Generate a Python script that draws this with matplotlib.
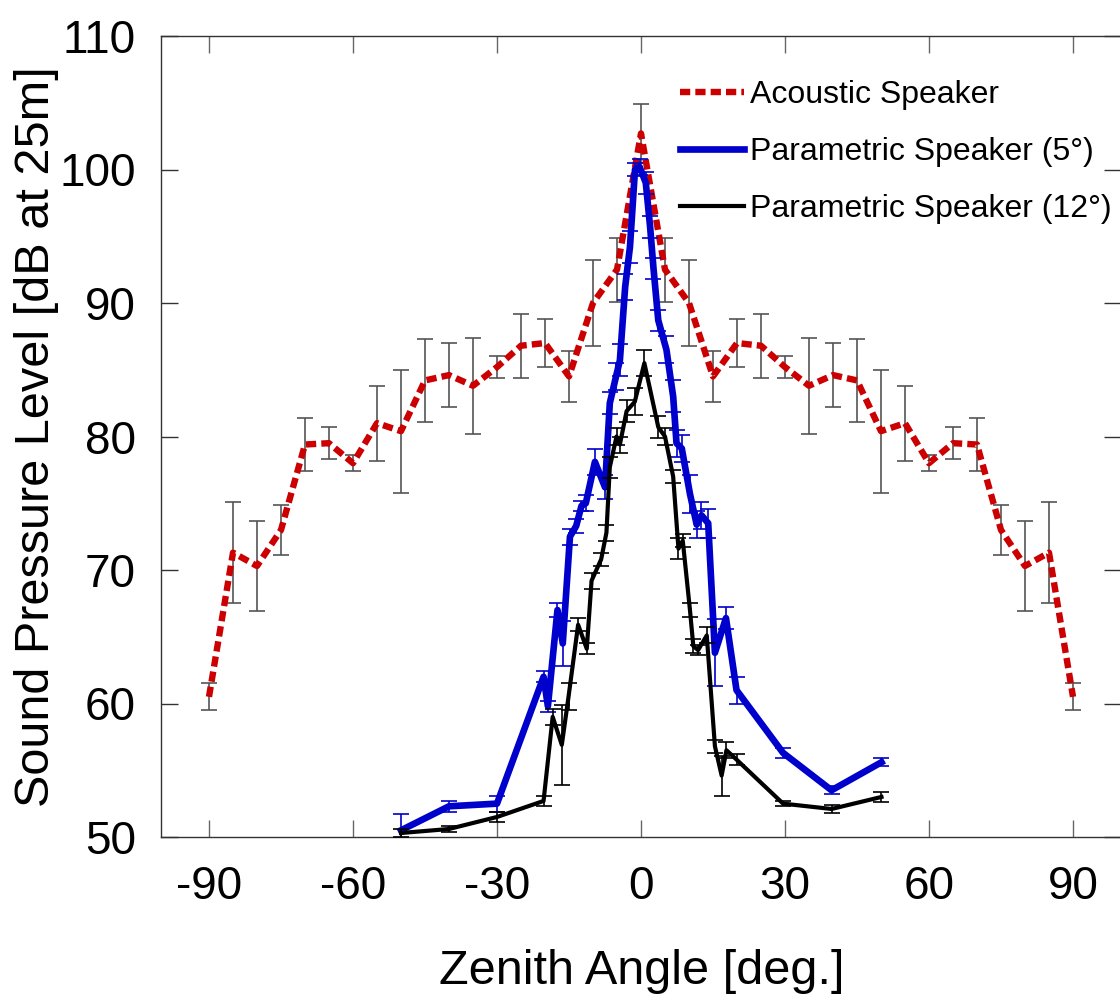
import numpy as np
import matplotlib
matplotlib.use("Agg")
import matplotlib.pyplot as plt

plt.rcParams['font.family'] = ['Liberation Sans', 'DejaVu Sans']
plt.rcParams['axes.unicode_minus'] = False

# Acoustic speaker
ac_angle = [-90, -85, -80, -75, -70, -65, -60, -55, -50, -45, -40, -35, -30, -25, -20, -15, -10, -5, 0,
            5, 10, 15, 20, 25, 30, 35, 40, 45, 50, 55, 60, 65, 70, 75, 80, 85, 90]
ac_spl = [60.5, 71.3, 70.3, 73.0, 79.4, 79.5, 78.0, 81.0, 80.4, 84.2, 84.6, 83.8, 85.2, 86.8, 87.0, 84.5, 90.0, 92.5, 102.7,
          92.5, 90.0, 84.5, 87.0, 86.8, 85.2, 83.8, 84.6, 84.2, 80.4, 81.0, 78.0, 79.5, 79.4, 73.0, 70.3, 71.3, 60.5]
ac_err = [1.0, 3.8, 3.4, 1.9, 2.0, 1.2, 0.6, 2.8, 4.6, 3.1, 2.4, 3.6, 0.8, 2.4, 1.8, 1.9, 3.2, 2.4, 2.2,
          2.4, 3.2, 1.9, 1.8, 2.4, 0.8, 3.6, 2.4, 3.1, 4.6, 2.8, 0.6, 1.2, 2.0, 1.9, 3.4, 3.8, 1.0]

# Parametric speaker (5 deg)
p5_angle = [-50, -40, -30, -20.3, -19.4, -17.4, -16.3, -14.8, -13.5, -12.4, -11.5, -9.6, -7.5, -6.5, -5.2, -4.4,
            -3.3, -2.3, -1.25, -0.3, 1.0, 1.9, 2.6, 3.6, 5.3, 6.7, 7.4, 8.5, 10.2, 11.6, 12.6, 14.0, 15.4, 17.7,
            19.9, 29.6, 39.7, 50.1]
p5_spl = [50.5, 52.3, 52.5, 62.0, 59.8, 67.0, 64.5, 72.5, 73.3, 74.8, 75.0, 78.1, 76.2, 82.5, 84.5, 85.7,
          91.2, 94.2, 100.0, 100.2, 99.0, 95.7, 92.6, 88.7, 86.5, 83.0, 79.5, 79.1, 75.7, 73.4, 74.1, 73.5, 63.8, 66.4,
          61.0, 56.3, 53.5, 55.6]
p5_err = [1.2, 0.4, 0.6, 0.4, 0.4, 0.5, 1.7, 0.6, 0.5, 0.4, 0.6, 1.0, 0.9, 0.8, 1.0, 1.2,
          1.0, 1.2, 0.5, 0.6, 0.8, 0.8, 0.8, 0.8, 1.0, 1.2, 1.0, 1.0, 1.4, 1.0, 1.0, 1.1, 2.5, 0.8,
          1.0, 0.4, 0.3, 0.3]

# Parametric speaker (12 deg)
p12_angle = [-50, -40, -30, -20.3, -18.4, -16.5, -15.1, -13.1, -11.3, -10.3, -8.3, -7.2, -6.5, -5.1, -4.4,
             -3.0, -1.3, 0.7, 3.6, 5.0, 6.7, 7.8, 8.7, 10.2, 10.9, 11.9, 13.7, 15.4, 16.8, 17.8, 19.9,
             29.6, 39.7, 50.1]
p12_spl = [50.3, 50.6, 51.5, 52.7, 59.0, 56.9, 60.5, 65.9, 64.1, 69.2, 70.8, 72.8, 77.7, 80.0, 79.4,
           81.9, 82.6, 85.5, 80.7, 80.0, 77.0, 71.6, 72.2, 67.0, 64.3, 64.0, 65.1, 56.8, 54.6, 56.5, 55.8,
           52.5, 52.1, 53.0]
p12_err = [0.3, 0.2, 0.4, 0.4, 0.6, 3.0, 1.0, 0.5, 0.4, 0.6, 0.5, 0.6, 0.8, 0.6, 0.6,
           0.8, 1.0, 1.0, 0.8, 0.6, 0.5, 0.8, 0.5, 0.5, 0.5, 0.4, 0.6, 0.5, 1.5, 0.6, 0.4,
           0.2, 0.3, 0.4]

fig = plt.figure(figsize=(11.2, 10.06), dpi=100)
ax = fig.add_axes([161 / 1120, 169 / 1006, 960 / 1120, 801 / 1006])

ax.errorbar(ac_angle, ac_spl, yerr=ac_err, fmt='none', ecolor='#555555', elinewidth=1.2,
            capsize=6, capthick=1.2, zorder=2)
ax.plot(ac_angle, ac_spl, color='#cc0000', lw=4.6, dashes=(1.6, 0.8), zorder=3,
        label='Acoustic Speaker')

ax.errorbar(p5_angle, p5_spl, yerr=p5_err, fmt='none', ecolor='#0000cc', elinewidth=1.2,
            capsize=6, capthick=1.2, zorder=4)
ax.plot(p5_angle, p5_spl, color='#0000cc', lw=4.8, zorder=5, label='Parametric Speaker (5°)')

ax.errorbar(p12_angle, p12_spl, yerr=p12_err, fmt='none', ecolor='black', elinewidth=1.2,
            capsize=6, capthick=1.2, zorder=6)
ax.plot(p12_angle, p12_spl, color='black', lw=3.0, zorder=7, label='Parametric Speaker (12°)')

ax.set_xlim(-100, 100)
ax.set_ylim(50, 110)
ax.set_xticks([-90, -60, -30, 0, 30, 60, 90])
ax.set_yticks([50, 60, 70, 80, 90, 100, 110])
ax.tick_params(axis='x', direction='in', length=12, width=1, color='#666666',
               top=True, labelsize=33, pad=20)
ax.tick_params(axis='y', direction='in', length=12, width=1, color='#333333',
               right=True, labelsize=33, pad=18)
for s in ax.spines.values():
    s.set_linewidth(1.0)
    s.set_color('#333333')

fig.text(642 / 1120, 1 - 972 / 1006, 'Zenith Angle [deg.]', fontsize=35,
         ha='center', va='center')
fig.text(37 / 1120, 1 - 437 / 1006, 'Sound Pressure Level [dB at 25m]', fontsize=35,
         ha='center', va='center', rotation=90)

ax.legend(loc='upper left', bbox_to_anchor=(680 / 1120, 1 - 80 / 1006),
          bbox_transform=fig.transFigure, frameon=False, fontsize=23,
          handlelength=2.0, handletextpad=0.2, labelspacing=0.85,
          borderpad=0, borderaxespad=0)

fig.savefig('out.png', dpi=100)
